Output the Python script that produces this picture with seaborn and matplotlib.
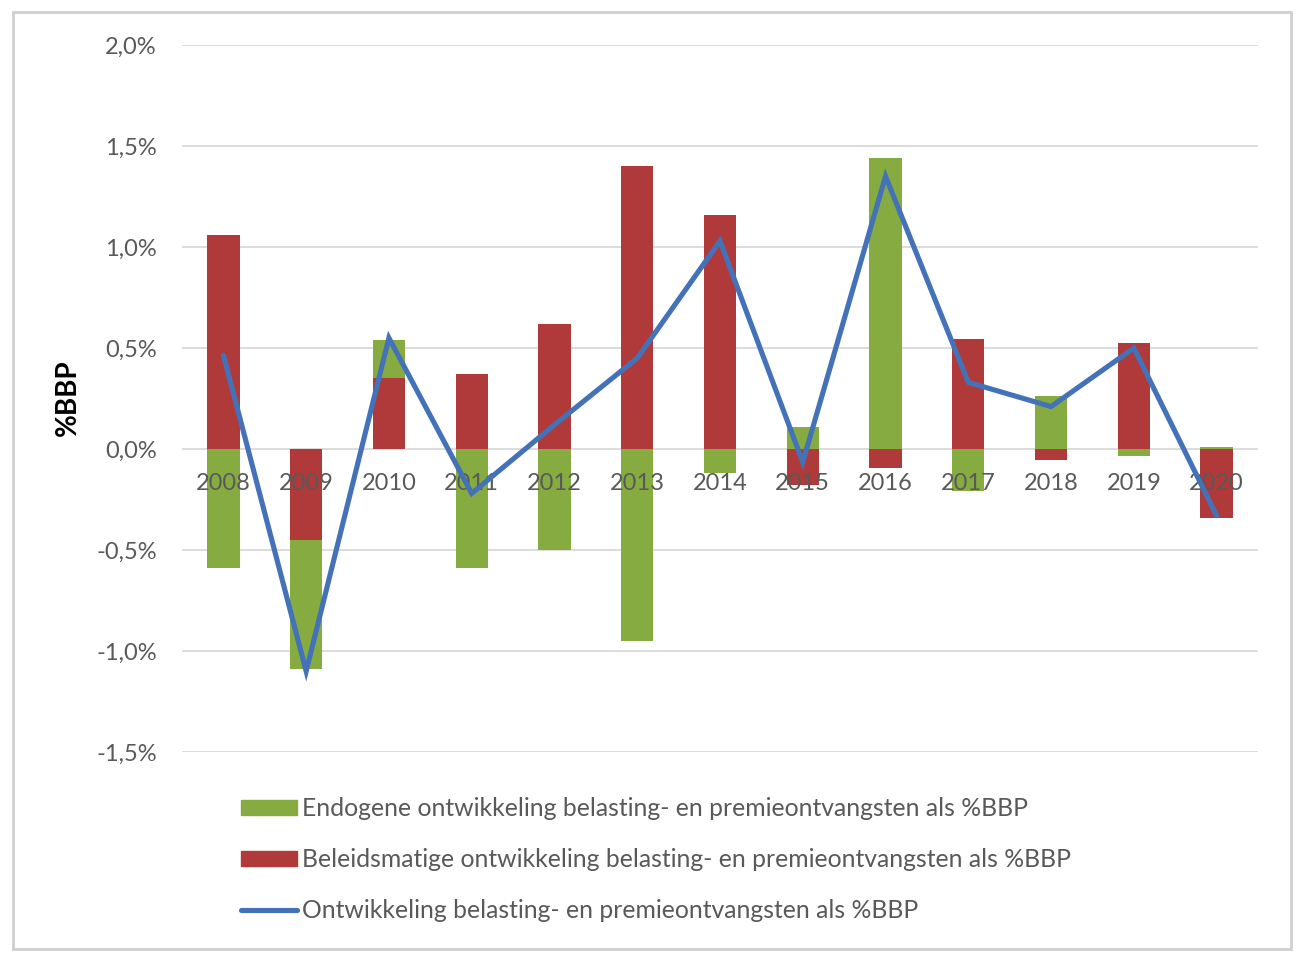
import matplotlib
matplotlib.use("Agg")
import matplotlib.pyplot as plt
import matplotlib.patches as mpatches
import matplotlib.transforms as mtransforms
from matplotlib.lines import Line2D
from matplotlib.ticker import FuncFormatter
import seaborn as sns
import numpy as np
import pandas as pd

# ---- data ----
years = ["2008", "2009", "2010", "2011", "2012", "2013", "2014",
         "2015", "2016", "2017", "2018", "2019", "2020"]
endogeen = [-0.59, -0.64, 0.19, -0.59, -0.50, -0.95, -0.12,
            0.11, 1.44, -0.21, 0.26, -0.035, 0.01]
beleid = [1.06, -0.45, 0.35, 0.37, 0.62, 1.40, 1.16,
          -0.18, -0.095, 0.545, -0.055, 0.525, -0.34]
totaal = [0.465, -1.10, 0.55, -0.22, 0.12, 0.45, 1.03,
          -0.065, 1.35, 0.33, 0.21, 0.50, -0.33]
yticks = [-1.5, -1.0, -0.5, 0.0, 0.5, 1.0, 1.5, 2.0]

lab_endo = "Endogene ontwikkeling belasting- en premieontvangsten als %BBP"
lab_bel = "Beleidsmatige ontwikkeling belasting- en premieontvangsten als %BBP"
lab_tot = "Ontwikkeling belasting- en premieontvangsten als %BBP"

GREEN = "#86AC41"
RED = "#B03A3A"
BLUE = "#4472B8"
TXT = "#595959"

# Excel-style stacking: policy series sits next to zero, endogenous part stacks
# on it when both have the same sign; draw green as full stack from zero and
# overlay the red.
green_top = [e + b if np.sign(e) == np.sign(b) else e for e, b in zip(endogeen, beleid)]

df = pd.DataFrame({"jaar": years, "groen": green_top, "rood": beleid,
                   "totaal": totaal, "pos": np.arange(len(years))})

sns.set_theme(style="white")
plt.rcParams["font.family"] = ["Lato", "DejaVu Sans"]

fig = plt.figure(figsize=(12.99, 9.61), dpi=100)
W, H = 1299, 961
ax = fig.add_axes([182 / W, 1 - 752 / H, (1258 - 182) / W, (752 - 45) / H])

sns.barplot(data=df, x="jaar", y="groen", color=GREEN, width=0.39,
            saturation=1, ax=ax, zorder=2, linewidth=0)
sns.barplot(data=df, x="jaar", y="rood", color=RED, width=0.39,
            saturation=1, ax=ax, zorder=3, linewidth=0)

# year labels next to the zero line, drawn above the bars
off = mtransforms.offset_copy(ax.transData, fig=fig, x=0, y=-35 * 0.72, units="points")
for i, yr in enumerate(years):
    ax.text(i, 0, yr, transform=off, ha="center", va="center",
            fontsize=17, color=TXT, zorder=3.5)

sns.lineplot(data=df, x="pos", y="totaal", color=BLUE, linewidth=3.7,
             ax=ax, zorder=4, solid_joinstyle="miter")

ax.set_xlim(-0.5, len(years) - 0.5)
ax.set_ylim(-1.5, 2.0)
ax.set_yticks(yticks)
ax.yaxis.set_major_formatter(FuncFormatter(lambda v, p: f"{v:.1f}%".replace(".", ",")))
ax.grid(axis="y", color="#D9D9D9", linewidth=1.3, zorder=0)
ax.grid(axis="x", visible=False)
ax.set_axisbelow(True)

for s in ["top", "right", "left", "bottom"]:
    ax.spines[s].set_visible(False)

ax.set_xticks(np.arange(len(years)))
ax.set_xticklabels([])
ax.tick_params(axis="x", length=0)
ax.tick_params(axis="y", length=0, pad=18, labelsize=17, labelcolor=TXT)
ax.set_xlabel("")
ax.set_ylabel("%BBP", fontsize=20, fontweight="bold", color="black")
ax.yaxis.set_label_coords((81 - 182) / (1258 - 182), (752 - 398) / (752 - 45))

handles = [mpatches.Patch(color=GREEN, label=lab_endo),
           mpatches.Patch(color=RED, label=lab_bel),
           Line2D([0], [0], color=BLUE, linewidth=3.7, label=lab_tot)]
leg = fig.legend(handles=handles, loc="upper left",
                 bbox_to_anchor=(219 / W, 1 - 775 / H),
                 frameon=False, fontsize=17.8, handlelength=2.25, handleheight=0.55,
                 handletextpad=0.2, labelspacing=1.12, labelcolor=TXT)

fig.patches.append(mpatches.Rectangle((13 / W, 1 - 949 / H), (1291 - 13) / W,
                                      (949 - 12) / H, transform=fig.transFigure,
                                      fill=False, edgecolor="#D0D0D0", linewidth=2))

fig.savefig("out.png", dpi=100)
